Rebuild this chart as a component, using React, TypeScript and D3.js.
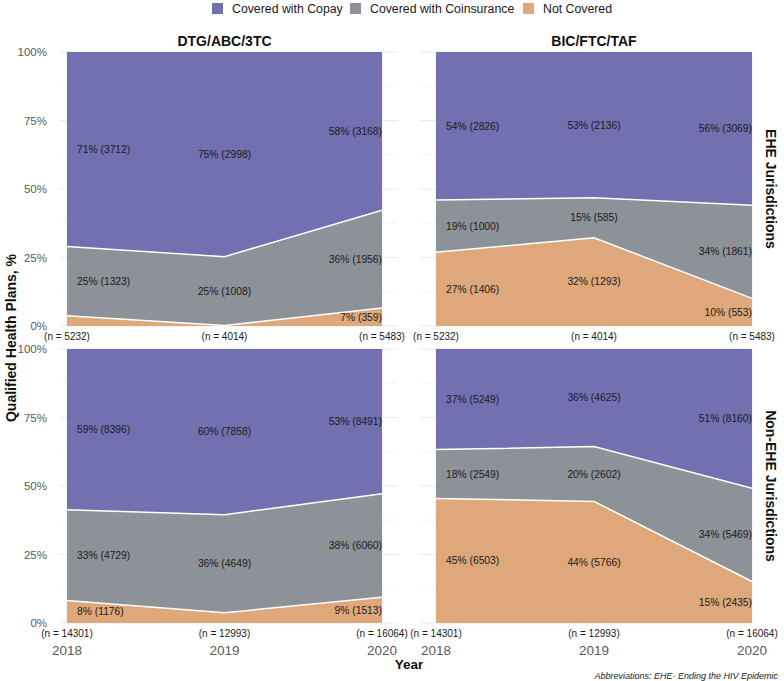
import React from "react";
import * as d3 from "d3";

const years = [2018, 2019, 2020];
const drugs = ["DTG/ABC/3TC", "BIC/FTC/TAF"];
const regions = ["EHE Jurisdictions", "Non-EHE Jurisdictions"];
// stacked bottom -> top
const categories = ["Not Covered", "Covered with Coinsurance", "Covered with Copay"];
const legendOrder = ["Covered with Copay", "Covered with Coinsurance", "Not Covered"];
const yTicks = [0, 0.25, 0.5, 0.75, 1];

// plan counts per year (2018, 2019, 2020)
const dtgEheCopay = [3712, 2998, 3168];
const dtgEheCoins = [1323, 1008, 1956];
const dtgEheNot = [197, 8, 359];
const dtgEheN = [5232, 4014, 5483];

const bicEheCopay = [2826, 2136, 3069];
const bicEheCoins = [1000, 585, 1861];
const bicEheNot = [1406, 1293, 553];
const bicEheN = [5232, 4014, 5483];

const dtgNonCopay = [8396, 7858, 8491];
const dtgNonCoins = [4729, 4649, 6060];
const dtgNonNot = [1176, 486, 1513];
const dtgNonN = [14301, 12993, 16064];

const bicNonCopay = [5249, 4625, 8160];
const bicNonCoins = [2549, 2602, 5469];
const bicNonNot = [6503, 5766, 2435];
const bicNonN = [14301, 12993, 16064];

const panelData = [
  [
    { copay: dtgEheCopay, coins: dtgEheCoins, not: dtgEheNot, n: dtgEheN },
    { copay: bicEheCopay, coins: bicEheCoins, not: bicEheNot, n: bicEheN },
  ],
  [
    { copay: dtgNonCopay, coins: dtgNonCoins, not: dtgNonNot, n: dtgNonN },
    { copay: bicNonCopay, coins: bicNonCoins, not: bicNonNot, n: bicNonN },
  ],
];

const colors = {
  "Covered with Copay": "#6360a8",
  "Covered with Coinsurance": "#81868e",
  "Not Covered": "#da9e6d",
};

const cols = [
  { g0: 60, g1: 398, x0: 67, x1: 382 },
  { g0: 420, g1: 752, x0: 436, x1: 752 },
];
const rows = [
  { y0: 52, y1: 326 },
  { y0: 349, y1: 623 },
];

const font = "'Liberation Sans', Arial, sans-serif";

function Panel({ ri, ci }) {
  const d = panelData[ri][ci];
  const c = cols[ci];
  const r = rows[ri];
  const x = d3.scaleLinear().domain([2018, 2020]).range([c.x0, c.x1]);
  const y = d3.scaleLinear().domain([0, 1]).range([r.y1, r.y0]);

  const table = years.map((yr, i) => ({
    year: yr,
    "Not Covered": d.not[i] / d.n[i],
    "Covered with Coinsurance": d.coins[i] / d.n[i],
    "Covered with Copay": d.copay[i] / d.n[i],
  }));
  const counts = {
    "Not Covered": d.not,
    "Covered with Coinsurance": d.coins,
    "Covered with Copay": d.copay,
  };
  const series = d3.stack().keys(categories)(table);
  const area = d3
    .area()
    .x((p) => x(p.data.year))
    .y0((p) => y(p[0]))
    .y1((p) => y(p[1]));
  const line = d3
    .line()
    .x((p) => x(p.data.year))
    .y((p) => y(p[1]));

  const minorY = [0.125, 0.375, 0.625, 0.875];
  const minorX = [2018.5, 2019.5];

  return (
    <g>
      {minorY.map((t) => (
        <line key={"my" + t} x1={c.g0} x2={c.g1} y1={y(t)} y2={y(t)} stroke="#f0f0f0" strokeWidth={0.6} />
      ))}
      {yTicks.map((t) => (
        <line key={"y" + t} x1={c.g0} x2={c.g1} y1={y(t)} y2={y(t)} stroke="#e8e8e8" strokeWidth={0.9} />
      ))}
      {minorX.map((t) => (
        <line key={"mx" + t} x1={x(t)} x2={x(t)} y1={r.y0} y2={r.y1} stroke="#f0f0f0" strokeWidth={0.6} />
      ))}
      {years.map((t) => (
        <line key={"x" + t} x1={x(t)} x2={x(t)} y1={r.y0} y2={r.y1} stroke="#e8e8e8" strokeWidth={0.9} />
      ))}
      {series.map((s) => (
        <path key={s.key} d={area(s)} fill={colors[s.key]} fillOpacity={0.9} />
      ))}
      {series.slice(0, 2).map((s) => (
        <path key={"l" + s.key} d={line(s)} fill="none" stroke="#ffffff" strokeWidth={1.5} />
      ))}
      {series.map((s) =>
        s.map((p, i) => {
          const frac = p[1] - p[0];
          if (frac < 0.05) return null;
          const anchor = i === 0 ? "start" : i === 1 ? "middle" : "end";
          const lx = x(p.data.year) + (i === 0 ? 10 : 0);
          return (
            <text
              key={s.key + i}
              x={lx}
              y={y((p[0] + p[1]) / 2)}
              dy="0.35em"
              textAnchor={anchor}
              fontSize={10.3}
              fill="#1a1a1a"
            >
              {`${Math.round(frac * 100)}% (${counts[s.key][i]})`}
            </text>
          );
        })
      )}
      {years.map((yr, i) => (
        <text key={"n" + yr} x={x(yr)} y={r.y1 + 10} dy="0.35em" textAnchor="middle" fontSize={10} fill="#1a1a1a">
          {`(n = ${d.n[i]})`}
        </text>
      ))}
      {ci === 0 &&
        yTicks.map((t) => (
          <text key={"yt" + t} x={47} y={y(t)} dy="0.35em" textAnchor="end" fontSize={11.5} fill="#5a5a5a">
            {d3.format(".0%")(t)}
          </text>
        ))}
      {ri === 1 &&
        years.map((yr) => (
          <text key={"xt" + yr} x={x(yr)} y={650} dy="0.35em" textAnchor="middle" fontSize={13.5} fill="#5a5a5a">
            {yr}
          </text>
        ))}
      {ri === 0 && (
        <text x={(c.x0 + c.x1) / 2} y={41} dy="0.35em" textAnchor="middle" fontSize={14} fontWeight="bold" fill="#111">
          {drugs[ci]}
        </text>
      )}
      {ci === 1 && (
        <text
          transform={`translate(771,${(r.y0 + r.y1) / 2}) rotate(90)`}
          textAnchor="middle"
          dy="0.35em"
          fontSize={14}
          fontWeight="bold"
          fill="#111"
        >
          {regions[ri]}
        </text>
      )}
    </g>
  );
}

export default function App() {
  const legendX = [212, 350, 523];
  return (
    <svg
      width={784}
      height={681}
      style={{ position: "absolute", left: 0, top: 0, background: "#fff" }}
      fontFamily={font}
    >
      {legendOrder.map((k, i) => (
        <g key={k}>
          <rect x={legendX[i]} y={3} width={11} height={11} fill={colors[k]} fillOpacity={0.9} />
          <text x={legendX[i] + 20} y={8.5} dy="0.35em" fontSize={12.3} fill="#1a1a1a">
            {k}
          </text>
        </g>
      ))}
      {rows.map((_, ri) => cols.map((_, ci) => <Panel key={ri + "-" + ci} ri={ri} ci={ci} />))}
      <text
        transform="translate(11,338) rotate(-90)"
        textAnchor="middle"
        dy="0.35em"
        fontSize={14}
        fontWeight="bold"
        fill="#111"
      >
        Qualified Health Plans, %
      </text>
      <text x={409} y={664} dy="0.35em" textAnchor="middle" fontSize={13.5} fontWeight="bold" fill="#111">
        Year
      </text>
      <text x={778} y={676} dy="0.35em" textAnchor="end" fontSize={9} fontStyle="italic" fill="#222">
        Abbreviations: EHE- Ending the HIV Epidemic
      </text>
    </svg>
  );
}
